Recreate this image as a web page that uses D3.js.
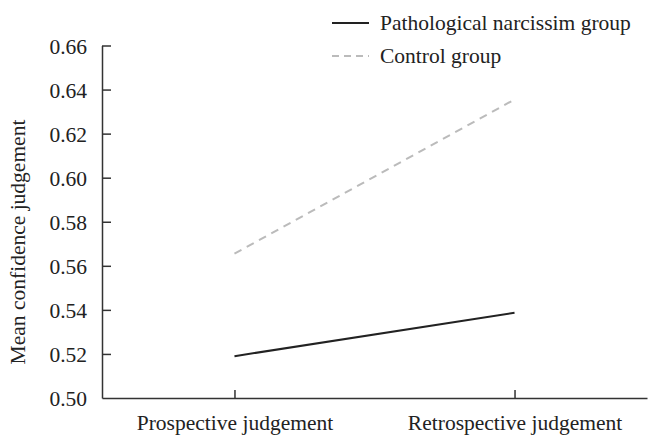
<!DOCTYPE html>
<html>
<head>
<meta charset="utf-8">
<script src="https://cdn.jsdelivr.net/npm/d3@7"></script>
<style>
  html, body { margin: 0; padding: 0; background: #fff; }
  svg text { font-family: 'Liberation Serif', 'DejaVu Serif', serif; fill: #222; }
</style>
</head>
<body>
<svg id="chart" width="653" height="439"></svg>
<script>
const categories = ['Prospective judgement', 'Retrospective judgement'];
const narcissism = [0.519, 0.5387];
const control = [0.5655, 0.6355];
const yTicks = [0.50, 0.52, 0.54, 0.56, 0.58, 0.60, 0.62, 0.64, 0.66];
const seriesNames = ['Pathological narcissim group', 'Control group'];

const style = {
  fontSize: '21.5px',
  axisColor: '#333',
  solidColor: '#222',
  dashColor: '#bbb',
  dash: '8, 6',
  lineWidth: 2
};

const svg = d3.select('#chart');
const margin = { top: 45.5, left: 102, right: 6, bottom: 41 };
const w = +svg.attr('width'), h = +svg.attr('height');

const xScale = d3.scalePoint()
  .domain(categories)
  .range([margin.left, w - margin.right])
  .padding(0.473);

const yScale = d3.scaleLinear()
  .domain([0.50, 0.66])
  .range([h - margin.bottom, margin.top]);

// axes
const xAxis = d3.axisBottom(xScale).tickSize(-8).tickPadding(17).tickSizeOuter(0);
const xSel = svg.append('g')
  .attr('transform', `translate(0, ${h - margin.bottom})`)
  .call(xAxis);

const yAxis = d3.axisLeft(yScale).tickValues(yTicks).tickFormat(d3.format('.2f'))
  .tickSize(-9).tickPadding(15).tickSizeOuter(0);
const ySel = svg.append('g')
  .attr('transform', `translate(${margin.left}, 0)`)
  .call(yAxis);

[xSel, ySel].forEach(sel => {
  sel.select('.domain').attr('stroke', style.axisColor).attr('stroke-width', 1.5);
  sel.selectAll('.tick line').attr('stroke', style.axisColor).attr('stroke-width', 1.5);
  sel.selectAll('.tick text')
    .style('font-size', style.fontSize)
    .style('font-family', "'Liberation Serif', serif")
    .attr('fill', '#222');
});
ySel.selectAll('.tick text').attr('dy', '0.35em');
// bottom y tick sits on the x-axis line
ySel.selectAll('.tick line').filter(d => d === 0.50).remove();

// y title
svg.append('text')
  .attr('transform', `translate(25, 242) rotate(-90)`)
  .attr('text-anchor', 'middle')
  .style('font-size', style.fontSize)
  .text('Mean confidence judgement');

// lines
const lineGen = d3.line()
  .x((d, i) => xScale(categories[i]))
  .y(d => yScale(d));

svg.append('path')
  .attr('d', lineGen(control))
  .attr('fill', 'none')
  .attr('stroke', style.dashColor)
  .attr('stroke-width', style.lineWidth)
  .attr('stroke-dasharray', style.dash);

svg.append('path')
  .attr('d', lineGen(narcissism))
  .attr('fill', 'none')
  .attr('stroke', style.solidColor)
  .attr('stroke-width', style.lineWidth);

// legend
const legend = svg.append('g').attr('transform', 'translate(332, 0)');
const legendY = [23, 56];
legend.selectAll('line')
  .data(seriesNames)
  .enter()
  .append('line')
    .attr('x1', 0).attr('x2', 37)
    .attr('y1', (d, i) => legendY[i]).attr('y2', (d, i) => legendY[i])
    .attr('stroke', (d, i) => i === 0 ? style.solidColor : style.dashColor)
    .attr('stroke-width', style.lineWidth)
    .attr('stroke-dasharray', (d, i) => i === 0 ? null : '7, 5');
legend.selectAll('text')
  .data(seriesNames)
  .enter()
  .append('text')
    .attr('x', 48)
    .attr('y', (d, i) => legendY[i])
    .attr('dy', '0.33em')
    .style('font-size', style.fontSize)
    .text(d => d);
</script>
</body>
</html>
